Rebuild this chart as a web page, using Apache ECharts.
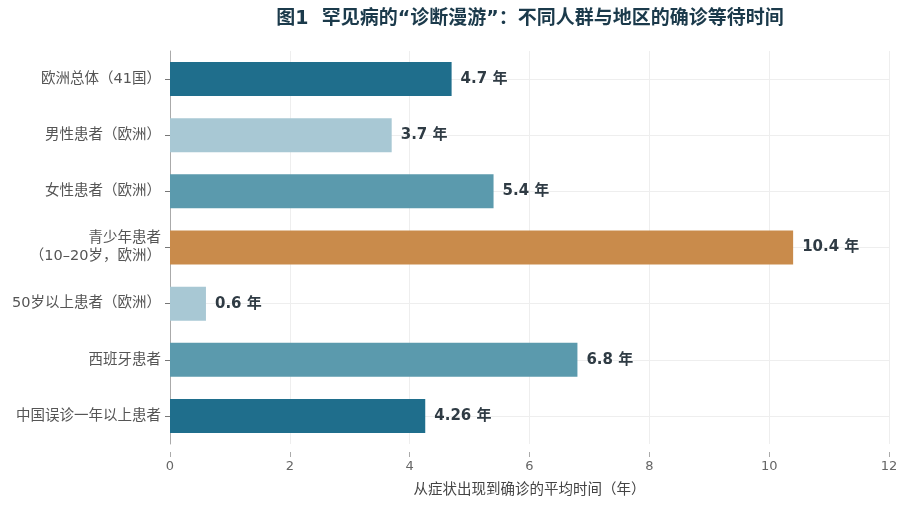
<!DOCTYPE html>
<html>
<head>
<meta charset="utf-8">
<script src="https://cdn.jsdelivr.net/npm/echarts@6/dist/echarts.min.js"></script>
<style>
  html, body { margin: 0; padding: 0; background: #fff; }
  #chart { width: 907px; height: 507px; }
</style>
</head>
<body>
<div id="chart"></div>
<script>
  // 人群 / 地区
  const categories = [
    '欧洲总体（41国）',
    '男性患者（欧洲）',
    '女性患者（欧洲）',
    '青少年患者\n（10–20岁，欧洲）',
    '50岁以上患者（欧洲）',
    '西班牙患者',
    '中国误诊一年以上患者'
  ];
  // 平均确诊时间（年）
  const years = [4.7, 3.7, 5.4, 10.4, 0.6, 6.8, 4.26];
  const barColors = ['#1f6e8c', '#a8c8d4', '#5b9aad', '#c98b4b', '#a8c8d4', '#5b9aad', '#1f6e8c'];
  const xTicks = [0, 2, 4, 6, 8, 10, 12];

  const font = '"DejaVu Sans", "Noto Sans CJK SC", sans-serif';
  const chart = echarts.init(document.getElementById('chart'));

  const option = {
    animation: false,
    textStyle: { fontFamily: font },
    title: {
      text: '图1  罕见病的“诊断漫游”：不同人群与地区的确诊等待时间',
      left: 525,
      top: 5,
      textAlign: 'center',
      textStyle: { fontSize: 19, fontWeight: 'bold', color: '#1b3a4b', fontFamily: font }
    },
    grid: { left: 170, right: 18, top: 51, bottom: 63 },
    xAxis: {
      type: 'value',
      min: xTicks[0],
      max: xTicks[xTicks.length - 1],
      interval: 2,
      offset: 8,
      name: '从症状出现到确诊的平均时间（年）',
      nameLocation: 'middle',
      nameGap: 31,
      nameTextStyle: { fontSize: 14.5, color: '#444' },
      axisLine: { lineStyle: { color: '#aaaaaa' } },
      axisTick: { show: true, length: 5, lineStyle: { color: '#aaaaaa' } },
      axisLabel: { fontSize: 13, color: '#666', margin: 8 },
      splitLine: { lineStyle: { color: '#eeeeee' } }
    },
    yAxis: {
      type: 'category',
      inverse: true,
      data: categories,
      axisLine: { show: true, lineStyle: { color: '#aaaaaa' } },
      axisTick: { show: true, alignWithLabel: true, length: 5, lineStyle: { color: '#777' } },
      axisLabel: { fontSize: 14.5, color: '#555', margin: 9, lineHeight: 18 },
      splitLine: { show: false }
    },
    series: [
      {
        type: 'bar',
        data: years.map((v, i) => ({ value: v, itemStyle: { color: barColors[i] } })),
        barWidth: 34,
        label: {
          show: true,
          position: 'right',
          distance: 9,
          formatter: p => p.value + ' 年',
          fontSize: 15,
          fontWeight: 'bold',
          color: '#2f3b44'
        },
        markLine: {
          silent: true,
          z: 1,
          symbol: 'none',
          label: { show: false },
          lineStyle: { color: '#eeeeee', type: 'solid', width: 1 },
          data: categories.map(c => ({ yAxis: c }))
        }
      }
    ]
  };

  chart.setOption(option);
</script>
</body>
</html>
